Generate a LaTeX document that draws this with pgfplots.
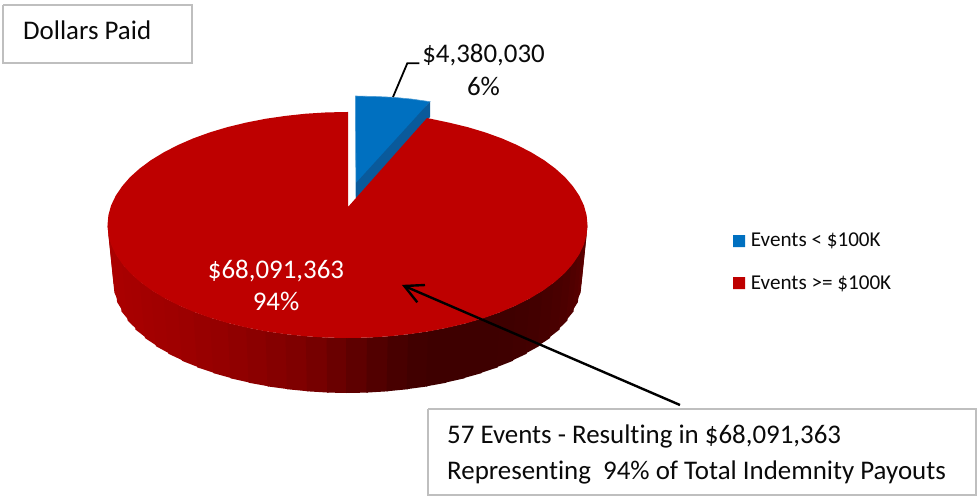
\documentclass[border=0pt]{standalone}
\usepackage{pgfplots}
\pgfplotsset{compat=1.18}
\usepackage{fontspec}
\setmainfont{Carlito}[Ligatures=NoCommon]
\definecolor{pietop}{HTML}{BE0000}
\definecolor{pieblue}{HTML}{0070C0}
\definecolor{piebluedark}{HTML}{0A5A9B}
\definecolor{boxgray}{HTML}{BFBFBF}
\definecolor{txt}{HTML}{0A0A0A}
\newcommand{\lbl}{\fontsize{27}{30}\selectfont}
\newcommand{\leg}{\fontsize{21.2}{24}\selectfont}
\newcommand{\strip}[2]{\addplot[fill={rgb,255:red,#1;green,0;blue,0}, draw=none] coordinates {#2};}
\begin{document}
\begin{tikzpicture}
\begin{axis}[
  scale only axis, width=977bp, height=496bp,
  xmin=0, xmax=977, ymin=0, ymax=496, y dir=reverse,
  hide axis, clip=false,
]
% blue slice
\addplot[fill=pieblue, draw=pieblue!70!white, line width=0.6bp] coordinates {
 (355.3,96) (375,96.5) (393.3,97.3) (412,99.1) (430,101.7) (356,197) (355.3,96)};
\addplot[fill=piebluedark, draw=none] coordinates {
 (430,101.7) (430,117) (356,199) (356,183) (430,101.7)};
% side of the pie, strip by strip (neighbours overlap slightly)
\strip{172}{(107.5,225) (109.9,234.9) (115.9,292.6) (113.5,283)}
\strip{171}{(108.4,234.9) (112.6,244.6) (118.6,302.1) (114.4,292.6)}
\strip{170}{(111.1,244.6) (117.2,254.2) (123,311.5) (117.1,302.1)}
\strip{169}{(115.7,254.2) (123.5,263.6) (129.1,320.6) (121.5,311.5)}
\strip{167}{(122,263.6) (131.5,272.8) (136.9,329.5) (127.6,320.6)}
\strip{166}{(130,272.8) (141.2,281.5) (146.4,338) (135.4,329.5)}
\strip{163}{(139.7,281.5) (152.4,289.8) (157.3,346.1) (144.9,338)}
\strip{161}{(150.9,289.8) (165.2,297.6) (169.8,353.7) (155.8,346.1)}
\strip{159}{(163.7,297.6) (179.3,304.9) (183.5,360.8) (168.3,353.7)}
\strip{156}{(177.8,304.9) (194.7,311.6) (198.6,367.3) (182,360.8)}
\strip{152}{(193.2,311.6) (211.3,317.6) (214.8,373.1) (197.1,367.3)}
\strip{149}{(209.8,317.6) (229,322.9) (232,378.3) (213.3,373.1)}
\strip{144}{(227.5,322.9) (247.6,327.4) (250.1,382.7) (230.5,378.3)}
\strip{139}{(246.1,327.4) (266.9,331.2) (269,386.4) (248.6,382.7)}
\strip{133}{(265.4,331.2) (286.9,334.1) (288.4,389.2) (267.5,386.4)}
\strip{127}{(285.4,334.1) (307.3,336.3) (308.4,391.3) (286.9,389.2)}
\strip{118}{(305.8,336.3) (328.1,337.6) (328.6,392.6) (306.9,391.3)}
\strip{106}{(326.6,337.6) (349,338) (349,393) (327.1,392.6)}
\strip{94}{(346,338) (368.4,337.6) (367.9,392.6) (346,393)}
\strip{82}{(366.9,337.6) (389.2,336.3) (388.1,391.3) (366.4,392.6)}
\strip{72}{(387.7,336.3) (409.6,334.1) (408.1,389.2) (386.6,391.3)}
\strip{65}{(408.1,334.1) (429.6,331.2) (427.5,386.4) (406.6,389.2)}
\strip{62}{(428.1,331.2) (448.9,327.4) (446.4,382.7) (426,386.4)}
\strip{62}{(447.4,327.4) (467.5,322.9) (464.5,378.3) (444.9,382.7)}
\strip{62}{(466,322.9) (485.2,317.6) (481.7,373.1) (463,378.3)}
\strip{62}{(483.7,317.6) (501.8,311.6) (497.9,367.3) (480.2,373.1)}
\strip{63}{(500.3,311.6) (517.2,304.9) (513,360.8) (496.4,367.3)}
\strip{65}{(515.7,304.9) (531.3,297.6) (526.7,353.7) (511.5,360.8)}
\strip{67}{(529.8,297.6) (544.1,289.8) (539.2,346.1) (525.2,353.7)}
\strip{70}{(542.6,289.8) (555.3,281.5) (550.1,338) (537.7,346.1)}
\strip{73}{(553.8,281.5) (565,272.8) (559.6,329.5) (548.6,338)}
\strip{76}{(563.5,272.8) (573,263.6) (567.4,320.6) (558.1,329.5)}
\strip{80}{(571.5,263.6) (579.3,254.2) (573.5,311.5) (565.9,320.6)}
\strip{84}{(577.8,254.2) (583.9,244.6) (577.9,302.1) (572,311.5)}
\strip{88}{(582.4,244.6) (586.6,234.9) (580.6,292.6) (576.4,302.1)}
\strip{91}{(585.1,234.9) (587.5,225) (581.5,283) (579.1,292.6)}
% top of the red slice
\addplot[fill=pietop, draw=none] coordinates {
 (427,118) (448.9,122.6) (467.5,127.1) (485.2,132.4) (501.8,138.4) (517.2,145.1)
 (531.3,152.4) (544.1,160.2) (555.3,168.5) (565,177.2) (573,186.4) (579.3,195.8)
 (583.9,205.4) (586.6,215.2) (587.5,225) (586.6,234.9) (583.9,244.6) (579.3,254.2)
 (573,263.6) (565,272.8) (555.3,281.5) (544.1,289.8) (531.3,297.6) (517.2,304.9)
 (501.8,311.6) (485.2,317.6) (467.5,322.9) (448.9,327.4) (429.6,331.2) (409.6,334.1)
 (389.2,336.3) (368.4,337.6) (347.5,338) (326.6,337.6) (305.8,336.3) (285.4,334.1)
 (265.4,331.2) (246.1,327.4) (227.5,322.9) (209.8,317.6) (193.2,311.6) (177.8,304.9)
 (163.7,297.6) (150.9,289.8) (139.7,281.5) (130,272.8) (122,263.6) (115.7,254.2)
 (111.1,244.6) (108.4,234.9) (107.5,225) (108.4,215.2) (111.1,205.4) (115.7,195.8)
 (122,186.4) (130,177.2) (139.7,168.5) (150.9,160.2) (163.7,152.4) (177.8,145.1)
 (193.2,138.4) (209.8,132.4) (227.5,127.1) (246.1,122.6) (265.4,118.8) (285.4,115.9)
 (305.8,113.7) (326.6,112.4) (347.5,112) (348,112) (348,207) (427,118)};
% leader line
\addplot[black, line width=1.8bp] coordinates {(393,97) (407.3,63.3) (419.3,63.3)};
% arrow
\addplot[black, line width=2.4bp] coordinates {(680,405) (404.3,286)};
\addplot[black, line width=2.4bp, line join=miter] coordinates {(425,285) (404.3,286) (417.3,302.3)};
% legend keys
\addplot[fill=pieblue, draw=none] coordinates {(733,235) (745,235) (745,247) (733,247) (733,235)};
\addplot[fill=pietop, draw=none] coordinates {(733,277) (745,277) (745,289) (733,289) (733,277)};
% boxes
\addplot[fill=white, draw=boxgray, line width=2bp] coordinates {(3,5) (191.5,5) (191.5,63) (3,63) (3,5)};
\addplot[fill=white, draw=boxgray, line width=2bp] coordinates {(428,409) (976,409) (976,495) (428,495) (428,409)};
% text
\node[anchor=base west, inner sep=0pt, text=txt] at (axis cs:23,40) {\lbl Dollars Paid};
\node[anchor=base, inner sep=0pt, text=txt] at (axis cs:483.5,63) {\lbl \$4,380,030};
\node[anchor=base, inner sep=0pt, text=txt] at (axis cs:483.5,95) {\lbl 6\%};
\node[anchor=base, inner sep=0pt, text=white] at (axis cs:276,278) {\lbl \$68,091,363};
\node[anchor=base, inner sep=0pt, text=white] at (axis cs:276,310.5) {\lbl 94\%};
\node[anchor=base west, inner sep=0pt, text=txt] at (axis cs:750.7,246.7) {\leg Events < \$100K};
\node[anchor=base west, inner sep=0pt, text=txt] at (axis cs:750.7,289) {\leg Events >= \$100K};
\node[anchor=base west, inner sep=0pt, text=txt] at (axis cs:447,443) {\lbl 57 Events - Resulting in \$68,091,363};
\node[anchor=base west, inner sep=0pt, text=txt] at (axis cs:447,479) {\lbl Representing\ \ 94\% of Total Indemnity Payouts};
\end{axis}
\pgfresetboundingbox
\path (0,0) rectangle (977bp,496bp);
\end{tikzpicture}
\end{document}
